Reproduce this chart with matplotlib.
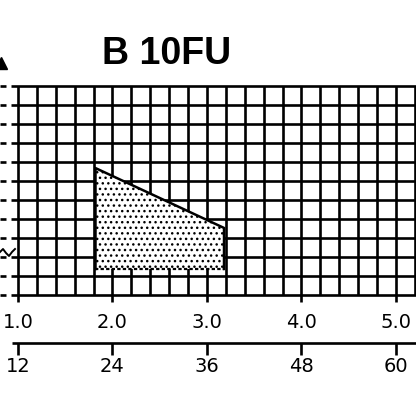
import matplotlib.pyplot as plt

# values
x_ticks = [1.0, 2.0, 3.0, 4.0, 5.0]
x_labels = ['1.0', '2.0', '3.0', '4.0', '5.0']
x2_labels = ['12', '24', '36', '48', '60']
area_x = [1.82, 3.18]
area_top = [6.68, 3.53]
area_bottom = [1.37, 1.37]
title = 'B 10FU'

# pixel -> data helpers (grid cell = 0.2 in x, 1 in y)
def px_x(p):
    return 1 + (p - 18) / 94.5

def px_y(p):
    return (295 - p) / 19.0

fig = plt.figure(figsize=(4.16, 4.16), dpi=100)
ax = fig.add_axes([0, 0, 1, 1])
ax.set_xlim(px_x(0), px_x(416))
ax.set_ylim(px_y(416), px_y(0))
ax.axis('off')

lw = 1.9
# grid
gx = [1.0 + 0.2 * i for i in range(22)]
gy = list(range(12))
ax.vlines(gx, 0, 11, color='black', lw=lw, zorder=1)
ax.hlines(gy, px_x(11), px_x(416), color='black', lw=lw, zorder=1)
# y-axis stubs on the left edge
ax.hlines(gy, px_x(0), px_x(6), color='black', lw=lw, zorder=1)
ax.plot([px_x(1)], [px_y(63)], marker='^', ms=8, color='black', clip_on=False)
# axis break squiggle
ax.plot([px_x(0), px_x(3), px_x(6), px_x(9), px_x(12), px_x(15)],
        [px_y(252), px_y(249), px_y(253), px_y(256), px_y(252), px_y(249)],
        color='black', lw=1.4, zorder=3)

# shaded region
plt.rcParams['hatch.linewidth'] = 1.0
ax.fill_between(area_x, area_bottom, area_top, facecolor='white', edgecolor='black',
                hatch='...', lw=0, zorder=2)
ax.plot([area_x[0], area_x[0], area_x[1], area_x[1]],
        [area_bottom[0], area_top[0], area_top[1], area_bottom[1]],
        color='black', lw=1.8, zorder=3)
ax.plot(area_x, area_bottom, color='black', lw=1.6, ls=(0, (1.5, 1)), zorder=3)

# bottom ticks and labels
ax.vlines(x_ticks, px_y(302), 0, color='black', lw=lw)
for x, lab in zip(x_ticks, x_labels):
    ax.text(x, px_y(323), lab, ha='center', va='center', fontsize=14,
            family='DejaVu Sans')

# second axis
ax.hlines(px_y(343), px_x(12), px_x(416), color='black', lw=lw)
ax.vlines(x_ticks, px_y(355), px_y(343), color='black', lw=lw)
for x, lab in zip(x_ticks, x2_labels):
    ax.text(x, px_y(367), lab, ha='center', va='center', fontsize=14,
            family='DejaVu Sans')

ax.text(px_x(167), px_y(54), title, ha='center', va='center', fontsize=27,
        fontweight='bold', family='Liberation Sans')

fig.savefig('out.png', dpi=100)
